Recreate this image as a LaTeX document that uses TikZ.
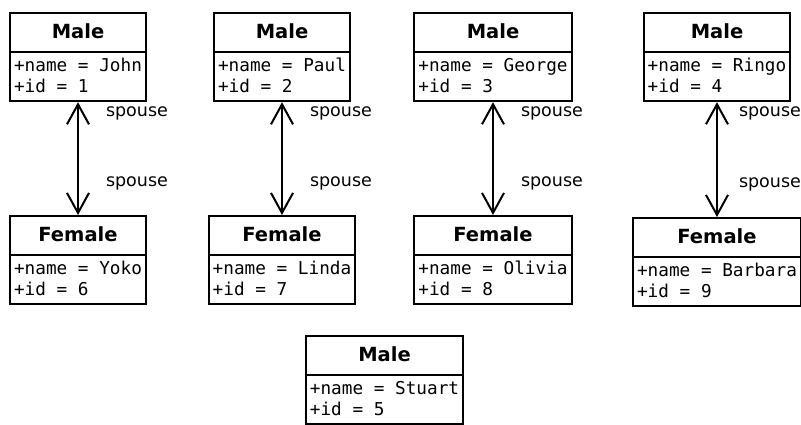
\documentclass[tikz,border=0pt]{standalone}
\usepackage{fontspec}
\setmainfont{DejaVu Sans}
\setsansfont{DejaVu Sans}
\setmonofont{DejaVu Sans Mono}
\usetikzlibrary{shapes.multipart,arrows.meta}

\newcommand{\classname}[1]{{\rmfamily\bfseries\fontsize{19.5pt}{23pt}\selectfont\rule[-12.5pt]{0pt}{37pt}#1}}
\newcommand{\members}[2]{\begin{tabular}{@{}l@{}}\rule{0pt}{18.5pt}+name = #1\\+id = #2\rule[-7.5pt]{0pt}{7.5pt}\end{tabular}}

\begin{document}
\begin{tikzpicture}[x=1pt,y=-1pt,
    cls/.style={draw, line width=2pt, rectangle split, rectangle split parts=2,
        rectangle split part align={center,left}, inner xsep=4pt, inner ysep=0pt,
        anchor=north, font=\ttfamily\fontsize{17.7pt}{21.2pt}\selectfont},
    assoc/.style={{Straight Barb[length=20pt,width=22pt]}-{Straight Barb[length=20pt,width=22pt]}, line width=2pt},
    role/.style={anchor=west, xshift=27pt, inner sep=0pt, font=\fontsize{17.5pt}{21pt}\selectfont}]
    \useasboundingbox (0,0) rectangle (801,424);

    % Husbands
    \node[cls] (john) at (78,12) {\classname{Male}\nodepart{two}\members{John}{1}};
    \node[cls] (paul) at (282,12) {\classname{Male}\nodepart{two}\members{Paul}{2}};
    \node[cls] (george) at (493,12) {\classname{Male}\nodepart{two}\members{George}{3}};
    \node[cls] (ringo) at (717,12) {\classname{Male}\nodepart{two}\members{Ringo}{4}};

    % Wives
    \node[cls] (yoko) at (78,215) {\classname{Female}\nodepart{two}\members{Yoko}{6}};
    \node[cls] (linda) at (282,215) {\classname{Female}\nodepart{two}\members{Linda}{7}};
    \node[cls] (olivia) at (493,215) {\classname{Female}\nodepart{two}\members{Olivia}{8}};
    \node[cls] (barbara) at (717,217) {\classname{Female}\nodepart{two}\members{Barbara}{9}};

    % The one without a spouse
    \node[cls] (stuart) at (384.5,335) {\classname{Male}\nodepart{two}\members{Stuart}{5}};

    % Marriages
    \draw[assoc] (john) -- node[role,pos=0.1] {spouse} node[role,pos=0.72] {spouse} (yoko);
    \draw[assoc] (paul) -- node[role,pos=0.1] {spouse} node[role,pos=0.72] {spouse} (linda);
    \draw[assoc] (george) -- node[role,pos=0.1] {spouse} node[role,pos=0.72] {spouse} (olivia);
    \draw[assoc] (ringo) -- node[role,pos=0.1,xshift=-6pt] {spouse} node[role,pos=0.72,xshift=-6pt] {spouse} (barbara);
\end{tikzpicture}
\end{document}
